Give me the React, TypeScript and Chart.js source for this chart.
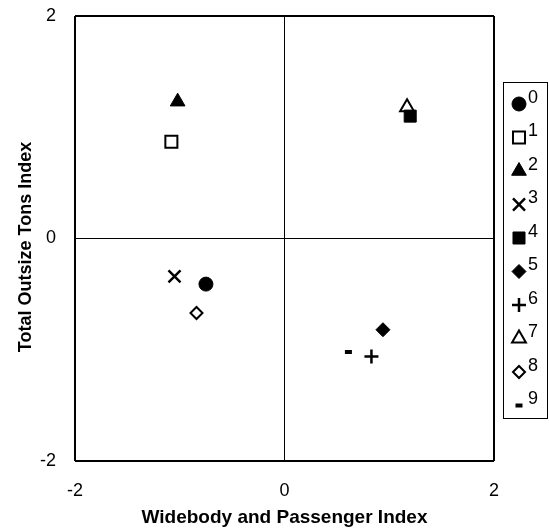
import React, { useEffect, useRef } from "react";
import { Chart, registerables } from "chart.js";
import { drawPoint } from "chart.js/helpers";

Chart.register(...registerables);

const seriesLabels = ["0", "1", "2", "3", "4", "5", "6", "7", "8", "9"];
const xValues = [-0.75, -1.08, -1.02, -1.05, 1.2, 0.94, 0.83, 1.17, -0.84, 0.61];
const yValues = [-0.41, 0.87, 1.23, -0.34, 1.1, -0.82, -1.06, 1.18, -0.67, -1.02];
const pointStyles = ["circle", "rect", "triangle", "crossRot", "rect", "rectRot", "cross", "triangle", "rectRot", "line"];
const filled = [true, false, true, true, true, true, true, false, false, true];
const radii = [7, 8.5, 8.5, 8.5, 8.5, 7, 7, 8, 6, 3.5];
const borderWidths = [1, 2, 1, 2.5, 1, 1, 2.5, 2, 2, 4];
const axisTicks = [-2, 0, 2];
const yTitle = "Total Outsize Tons Index";
const xTitle = "Widebody and Passenger Index";

const FONT = "'Liberation Sans', Arial, Helvetica, sans-serif";

const legendPlugin = {
  id: "boxLegend",
  afterDraw(chart: any) {
    const ctx = chart.ctx;
    ctx.save();
    ctx.strokeStyle = "#000";
    ctx.lineWidth = 1;
    ctx.strokeRect(503.5, 82.5, 44, 336);
    chart.data.datasets.forEach((ds: any, i: number) => {
      const cx = 519;
      const cy = 104 + i * 33.5;
      ctx.fillStyle = ds.pointBackgroundColor;
      ctx.strokeStyle = "#000";
      ctx.lineWidth = ds.pointBorderWidth;
      drawPoint(ctx, { pointStyle: ds.pointStyle, radius: ds.pointRadius, borderWidth: ds.pointBorderWidth, rotation: 0 }, cx, cy);
      ctx.fillStyle = "#000";
      ctx.font = `18px ${FONT}`;
      ctx.textAlign = "left";
      ctx.textBaseline = "middle";
      ctx.fillText(ds.label, 528, cy - 6);
    });
    // vertical axis title
    ctx.translate(26, 247);
    ctx.rotate(-Math.PI / 2);
    ctx.font = `bold 18px ${FONT}`;
    ctx.textAlign = "center";
    ctx.textBaseline = "middle";
    ctx.fillStyle = "#000";
    ctx.fillText(yTitle, 0, 0);
    ctx.restore();
  },
};

export default function App() {
  const ref = useRef<HTMLCanvasElement>(null);
  useEffect(() => {
    if (!ref.current) return;
    const datasets = seriesLabels.map((label, i) => ({
      label,
      data: [{ x: xValues[i], y: yValues[i] }],
      pointStyle: pointStyles[i],
      pointRadius: radii[i],
      pointHoverRadius: radii[i],
      pointBorderWidth: borderWidths[i],
      pointBackgroundColor: filled[i] ? "#000" : "#fff",
      pointBorderColor: "#000",
      showLine: false,
    }));
    const gridColor = (c: any) => (axisTicks.includes(c.tick?.value) ? "#000" : "transparent");
    const gridWidth = (c: any) => (c.tick?.value === 0 ? 1 : 2);
    const chart = new Chart(ref.current, {
      type: "scatter",
      data: { datasets },
      plugins: [legendPlugin],
      options: {
        animation: false,
        responsive: false,
        maintainAspectRatio: false,
        layout: { padding: { top: 16, right: 55, bottom: 0, left: 0 } },
        plugins: { legend: { display: false }, tooltip: { enabled: false } },
        scales: {
          x: {
            type: "linear",
            min: -2,
            max: 2,
            afterBuildTicks: (s: any) => { s.ticks = axisTicks.map((v) => ({ value: v })); },
            afterFit: (s: any) => { s.height = 69; s.paddingLeft = 0; s.paddingRight = 0; },
            ticks: { color: "#000", font: { family: FONT, size: 18 }, padding: 19 },
            grid: { color: gridColor, lineWidth: gridWidth, drawTicks: false },
            border: { display: false },
            title: { display: true, text: xTitle, color: "#000", font: { family: FONT, size: 19, weight: "bold" }, padding: { top: 0, bottom: 1 } },
          },
          y: {
            type: "linear",
            min: -2,
            max: 2,
            afterBuildTicks: (s: any) => { s.ticks = axisTicks.map((v) => ({ value: v })); },
            afterFit: (s: any) => { s.width = 75; s.paddingTop = 0; s.paddingBottom = 0; },
            ticks: { color: "#000", font: { family: FONT, size: 18 }, padding: 19 },
            grid: { color: gridColor, lineWidth: gridWidth, drawTicks: false },
            border: { display: false },
            title: { display: false },
          },
        },
      },
    } as any);
    return () => chart.destroy();
  }, []);
  return (
    <div style={{ position: "fixed", left: 0, top: 0, width: 549, height: 530, background: "#fff" }}>
      <canvas ref={ref} width={549} height={530} style={{ width: 549, height: 530, display: "block" }} />
    </div>
  );
}
